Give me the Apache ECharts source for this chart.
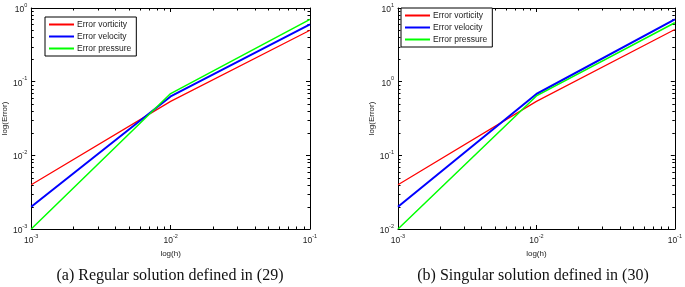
<!DOCTYPE html>
<html><head><meta charset="utf-8">
<script src="https://cdn.jsdelivr.net/npm/echarts@6/dist/echarts.min.js"></script>
<style>html,body{margin:0;padding:0;background:#fff}#c{width:685px;height:287px}</style>
</head><body><div id="c"></div>
<script>
// ---- data ----
const seriesNames = ['Error vorticity', 'Error velocity', 'Error pressure'];
const seriesColors = ['#ff0000', '#0000ff', '#00ff00'];
const hValues = [0.001, 0.01, 0.1];
// (a) Regular solution
const regVorticity = [0.004, 0.054, 0.50];
const regVelocity  = [0.002, 0.063, 0.60];
const regPressure  = [0.001, 0.069, 0.70];
// (b) Singular solution
const singVorticity = [0.04, 0.54, 5.1];
const singVelocity  = [0.02, 0.68, 7.0];
const singPressure  = [0.01, 0.64, 6.3];
const captions = ['(a) Regular solution defined in (29)', '(b) Singular solution defined in (30)'];
const xRange = [0.001, 0.1];
const yRangeA = [0.001, 1];
const yRangeB = [0.01, 10];
const minorMult = [2, 3, 4, 5, 6, 7, 8, 9];

const chart = echarts.init(document.getElementById('c'), null, {renderer: 'canvas'});
const sans = 'Liberation Sans, Arial, sans-serif';
const pairs = (ys) => hValues.map((h, i) => [h, ys[i]]);
function expLabel(v) {
  const e = Math.round(Math.log10(v));
  return '{b|10}{s|' + e + '}';
}
const rich = {
  b: {fontSize: 8.5, fontFamily: sans, color: '#222', verticalAlign: 'bottom', lineHeight: 12},
  s: {fontSize: 5.5, fontFamily: sans, color: '#222', verticalAlign: 'top', lineHeight: 12, padding: [0,0,0,0]}
};
function mkX(gi, pos, show) {
  return {
    type: 'log', logBase: 10, gridIndex: gi, position: pos, min: xRange[0], max: xRange[1],
    axisLine: {show: true, lineStyle: {color: '#000', width: 1}},
    axisTick: {show: true, inside: true, length: 4, lineStyle: {color: '#000'}},
    splitLine: {show: false},
    axisLabel: {show: show, formatter: expLabel, rich: rich, margin: 4},
    name: show ? 'log(h)' : '', nameLocation: 'middle', nameGap: 20,
    nameTextStyle: {fontSize: 8, fontFamily: sans, color: '#222'}
  };
}
function mkY(gi, pos, show, range) {
  return {
    type: 'log', logBase: 10, gridIndex: gi, position: pos, min: range[0], max: range[1],
    axisLine: {show: true, lineStyle: {color: '#000', width: 1}},
    axisTick: {show: true, inside: true, length: 4, lineStyle: {color: '#000'}},
    splitLine: {show: false},
    axisLabel: {show: show, formatter: expLabel, rich: rich, margin: 4},
    name: show ? 'log(Error)' : '', nameLocation: 'middle', nameGap: 16,
    nameTextStyle: {fontSize: 8, fontFamily: sans, color: '#222'}
  };
}
function minorTicks(gi, yRange) {
  const xs = [], ys = [];
  for (let k = Math.log10(xRange[0]); k < Math.log10(xRange[1]); k++) minorMult.forEach(m => xs.push(m * Math.pow(10, k)));
  for (let k = Math.log10(yRange[0]); k < Math.log10(yRange[1]) - 0.5; k++) minorMult.forEach(m => ys.push(m * Math.pow(10, k)));
  return {
    type: 'custom', xAxisIndex: gi * 2, yAxisIndex: gi * 2, silent: true, clip: false,
    data: [[xRange[0], yRange[0]]],
    renderItem: function (params, api) {
      const children = [];
      const L = 2.5;
      const st = {stroke: '#000', lineWidth: 1};
      const y0 = api.coord([xRange[0], yRange[0]])[1];
      const y1 = api.coord([xRange[0], yRange[1]])[1];
      const x0 = api.coord([xRange[0], yRange[0]])[0];
      const x1 = api.coord([xRange[1], yRange[0]])[0];
      xs.forEach(v => {
        const x = Math.round(api.coord([v, yRange[0]])[0]) + 0.5;
        children.push({type: 'line', shape: {x1: x, y1: y0, x2: x, y2: y0 - L}, style: st});
        children.push({type: 'line', shape: {x1: x, y1: y1, x2: x, y2: y1 + L}, style: st});
      });
      ys.forEach(v => {
        const y = Math.round(api.coord([xRange[0], v])[1]) + 0.5;
        children.push({type: 'line', shape: {x1: x0, y1: y, x2: x0 + L, y2: y}, style: st});
        children.push({type: 'line', shape: {x1: x1, y1: y, x2: x1 - L, y2: y}, style: st});
      });
      return {type: 'group', children: children};
    }
  };
}
const widths = [1.2, 2, 1.5];
function lineSeries(gi, name, idx, ys) {
  return {
    type: 'line', name: name, xAxisIndex: gi * 2, yAxisIndex: gi * 2, data: pairs(ys),
    symbol: 'none', animation: false,
    lineStyle: {color: seriesColors[idx], width: widths[idx]}, itemStyle: {color: seriesColors[idx]}
  };
}
function mkLegend(left, top) {
  return {
    left: left, top: top, orient: 'vertical',
    data: seriesNames.map((n, i) => ({name: n, icon: 'rect', itemStyle: {color: seriesColors[i]}})),
    itemWidth: 25, itemHeight: 2, itemGap: 3, padding: [3, 5, 3, 4],
    borderColor: '#000', borderWidth: 1, backgroundColor: '#fff',
    textStyle: {fontSize: 8.5, fontFamily: sans, color: '#222', padding: [0, 0, 0, -2]},
    selectedMode: false
  };
}
chart.setOption({
  animation: false,
  grid: [
    {left: 30, top: 8, width: 280, height: 221},
    {left: 398, top: 8, width: 280, height: 221}
  ],
  xAxis: [mkX(0, 'bottom', true), mkX(0, 'top', false), mkX(1, 'bottom', true), mkX(1, 'top', false)],
  yAxis: [mkY(0, 'left', true, yRangeA), mkY(0, 'right', false, yRangeA), mkY(1, 'left', true, yRangeB), mkY(1, 'right', false, yRangeB)],
  legend: [mkLegend(45, 17), mkLegend(401, 8)],
  title: [
    {text: captions[0], left: 165, top: 263, textAlign: 'center',
     textStyle: {fontFamily: 'Liberation Serif, Times New Roman, serif', fontSize: 16, fontWeight: 'normal', color: '#111'}},
    {text: captions[1], left: 528, top: 263, textAlign: 'center',
     textStyle: {fontFamily: 'Liberation Serif, Times New Roman, serif', fontSize: 16, fontWeight: 'normal', color: '#111'}}
  ],
  series: [
    lineSeries(0, seriesNames[0], 0, regVorticity),
    lineSeries(0, seriesNames[1], 1, regVelocity),
    lineSeries(0, seriesNames[2], 2, regPressure),
    lineSeries(1, seriesNames[0], 0, singVorticity),
    lineSeries(1, seriesNames[1], 1, singVelocity),
    lineSeries(1, seriesNames[2], 2, singPressure),
    minorTicks(0, yRangeA),
    minorTicks(1, yRangeB)
  ]
});
</script></body></html>
